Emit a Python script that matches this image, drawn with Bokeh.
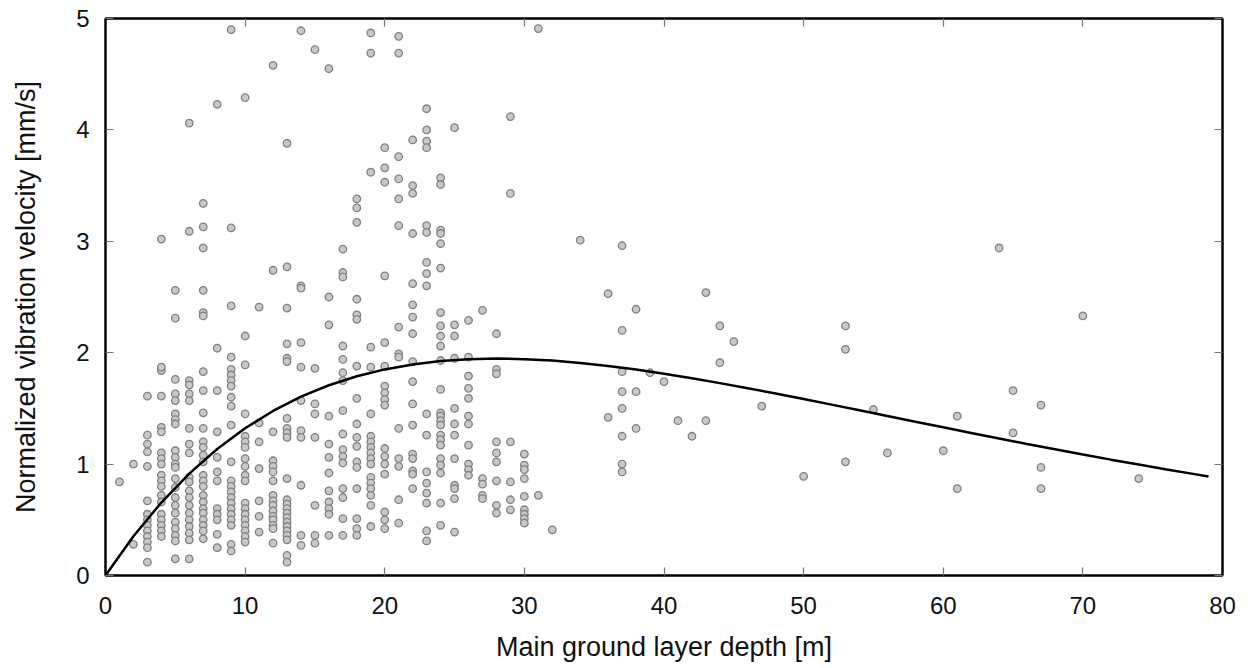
from bokeh.plotting import figure
from bokeh.models import LinearAxis, FixedTicker, Range1d
from bokeh.embed import file_html
from bokeh.resources import INLINE

# ---- data ----
depth_values = [1, 2, 3, 4, 5, 6, 7, 8, 9, 10, 11, 12, 13, 14, 15, 16, 17, 18, 19, 20,
                21, 22, 23, 24, 25, 26, 27, 28, 29, 30, 31, 32, 34, 36, 37, 38, 39, 40,
                41, 42, 43, 44, 45, 47, 50, 53, 55, 56, 60, 61, 64, 65, 67, 70, 74]
velocity_by_depth = [
    [0.84],
    [1.0, 0.28],
    [1.61, 1.26, 1.18, 1.11, 0.98, 0.67, 0.55, 0.5, 0.45, 0.4, 0.35, 0.3, 0.25, 0.12],
    [3.02, 1.84, 1.87, 1.61, 1.33, 1.29, 1.1, 1.05, 1.0, 0.9, 0.85, 0.8, 0.72, 0.66, 0.55, 0.5, 0.45, 0.4, 0.35],
    [2.56, 2.31, 1.76, 1.63, 1.57, 1.45, 1.40, 1.36, 1.12, 1.06, 1.0, 0.97, 0.87, 0.79, 0.70, 0.63, 0.56, 0.48, 0.42, 0.36, 0.31, 0.15],
    [4.06, 3.09, 1.75, 1.71, 1.63, 1.57, 1.32, 1.18, 1.10, 0.88, 0.84, 0.76, 0.70, 0.63, 0.56, 0.5, 0.44, 0.38, 0.32, 0.15],
    [3.34, 3.13, 2.94, 2.56, 2.36, 2.33, 1.83, 1.66, 1.46, 1.32, 1.2, 1.15, 1.08, 1.02, 0.9, 0.85, 0.8, 0.72, 0.66, 0.6, 0.56, 0.5, 0.45, 0.4, 0.33],
    [4.23, 2.04, 1.66, 1.29, 1.06, 0.93, 0.85, 0.6, 0.55, 0.5, 0.37, 0.25],
    [4.9, 3.12, 2.42, 1.96, 1.85, 1.8, 1.75, 1.7, 1.6, 1.52, 1.35, 1.02, 0.85, 0.8, 0.75, 0.7, 0.65, 0.6, 0.55, 0.5, 0.45, 0.28, 0.22],
    [4.29, 2.15, 1.89, 1.45, 1.25, 1.2, 1.15, 1.05, 0.98, 0.9, 0.85, 0.65, 0.6, 0.55, 0.5, 0.45, 0.4, 0.35, 0.3],
    [2.41, 1.37, 1.2, 0.96, 0.67, 0.53, 0.39],
    [4.58, 2.74, 1.29, 1.03, 0.98, 0.93, 0.85, 0.72, 0.67, 0.63, 0.58, 0.53, 0.5, 0.45, 0.42, 0.29],
    [3.88, 2.77, 2.4, 2.08, 1.95, 1.92, 1.41, 1.32, 1.28, 1.24, 0.87, 0.68, 0.64, 0.6, 0.56, 0.52, 0.48, 0.44, 0.4, 0.36, 0.32, 0.18, 0.12],
    [4.89, 2.6, 2.58, 2.09, 1.87, 1.57, 1.3, 1.24, 0.81, 0.36, 0.27],
    [4.72, 1.86, 1.54, 1.45, 1.24, 0.63, 0.36, 0.29],
    [4.55, 2.5, 2.25, 1.43, 1.18, 1.06, 0.92, 0.76, 0.66, 0.6, 0.55, 0.36],
    [2.93, 2.72, 2.68, 2.06, 1.94, 1.82, 1.75, 1.48, 1.27, 1.13, 1.07, 1.01, 0.78, 0.7, 0.51, 0.36],
    [3.38, 3.3, 3.17, 2.48, 2.34, 2.3, 1.88, 1.59, 1.36, 1.24, 1.16, 1.02, 0.97, 0.78, 0.51, 0.42, 0.36],
    [4.87, 4.69, 3.62, 2.05, 1.87, 1.45, 1.25, 1.2, 1.15, 1.1, 1.05, 1.0, 0.88, 0.83, 0.78, 0.72, 0.63, 0.44],
    [3.84, 3.66, 3.53, 2.69, 2.09, 1.88, 1.7, 1.64, 1.58, 1.53, 1.14, 1.07, 1.0, 0.91, 0.57, 0.5, 0.42],
    [4.84, 4.69, 3.76, 3.56, 3.38, 3.14, 2.23, 1.99, 1.96, 1.32, 1.05, 0.98, 0.68, 0.47],
    [3.91, 3.5, 3.43, 3.07, 2.62, 2.43, 2.32, 2.17, 1.92, 1.74, 1.54, 1.35, 1.09, 1.05, 0.94, 0.91, 0.78],
    [4.19, 4.0, 3.9, 3.84, 3.14, 3.08, 2.81, 2.71, 2.6, 1.45, 1.26, 0.93, 0.83, 0.74, 0.65, 0.4, 0.31],
    [3.57, 3.51, 3.1, 3.07, 2.98, 2.76, 2.36, 2.24, 2.15, 2.06, 1.93, 1.67, 1.46, 1.43, 1.39, 1.35, 1.26, 1.22, 1.17, 1.05, 0.99, 0.92, 0.65, 0.45],
    [4.02, 2.25, 2.15, 1.95, 1.5, 1.36, 1.26, 1.05, 0.81, 0.78, 0.69, 0.39],
    [2.29, 1.96, 1.79, 1.68, 1.59, 1.43, 1.36, 1.17, 1.0, 0.95, 0.9],
    [2.38, 0.87, 0.82, 0.72, 0.69],
    [2.17, 1.85, 1.81, 1.2, 1.1, 1.02, 0.85, 0.63, 0.56],
    [4.12, 3.43, 1.2, 0.84, 0.68, 0.59],
    [1.09, 0.99, 0.95, 0.87, 0.71, 0.59, 0.55, 0.51, 0.47],
    [4.91, 0.72],
    [0.41],
    [3.01],
    [2.53, 1.42],
    [2.96, 2.2, 1.83, 1.65, 1.5, 1.25, 1.0, 0.93],
    [2.39, 1.65, 1.32],
    [1.82],
    [1.74],
    [1.39],
    [1.25],
    [2.54, 1.39],
    [2.24, 1.91],
    [2.1],
    [1.52],
    [0.89],
    [2.24, 2.03, 1.02],
    [1.49],
    [1.1],
    [1.12],
    [1.43, 0.78],
    [2.94],
    [1.66, 1.28],
    [1.53, 0.97, 0.78],
    [2.33],
    [0.87],
]

fit_depth = [0, 2, 4, 6, 8, 10, 12, 14, 16, 18, 20, 22, 24, 26, 28, 30, 32, 34, 36, 38,
             40, 42, 44, 46, 48, 50, 52, 54, 56, 58, 60, 62, 64, 66, 68, 70, 72, 74, 76, 78, 79]
fit_velocity = [0.0, 0.352, 0.655, 0.915, 1.136, 1.322, 1.477, 1.605, 1.708, 1.789, 1.850,
                1.895, 1.925, 1.942, 1.947, 1.942, 1.929, 1.908, 1.881, 1.849, 1.812, 1.771,
                1.727, 1.681, 1.634, 1.585, 1.534, 1.484, 1.432, 1.381, 1.330, 1.280, 1.230,
                1.181, 1.134, 1.086, 1.040, 0.996, 0.952, 0.910, 0.888]

x_ticks = [0, 10, 20, 30, 40, 50, 60, 70, 80]
y_ticks = [0, 1, 2, 3, 4, 5]

pts_x = [d for d, vs in zip(depth_values, velocity_by_depth) for _ in vs]
pts_y = [v for vs in velocity_by_depth for v in vs]

FONT = "Liberation Sans"

p = figure(width=1254, height=668, output_backend="svg", toolbar_location=None,
           x_range=Range1d(0, 80), y_range=Range1d(0, 5),
           min_border_left=105, min_border_right=32, min_border_top=18, min_border_bottom=93)
p.background_fill_color = "white"
p.border_fill_color = "white"
p.outline_line_color = "black"
p.outline_line_width = 2
p.xgrid.visible = False
p.ygrid.visible = False

p.scatter(pts_x, pts_y, size=7.5, marker="circle", fill_color="#c8c8c8",
          line_color="#808080", line_width=1.3)
p.line(fit_depth, fit_velocity, line_color="black", line_width=2.5)

def style_axis(ax, show_labels=True):
    ax.major_tick_in = 8
    ax.major_tick_out = 0
    ax.minor_tick_line_color = None
    ax.major_tick_line_color = "#777777"
    ax.major_tick_line_width = 1.2
    ax.axis_line_color = "black"
    ax.axis_line_width = 2
    ax.major_label_text_font = FONT
    ax.major_label_text_font_size = "24px"
    ax.major_label_text_color = "#111111"
    ax.axis_label_text_font = FONT
    ax.axis_label_text_font_size = "27px"
    ax.axis_label_text_font_style = "normal"
    ax.axis_label_text_color = "#111111"
    if not show_labels:
        ax.major_label_text_font_size = "0px"
        ax.major_label_text_alpha = 0

xa = p.xaxis[0]
xa.ticker = FixedTicker(ticks=x_ticks)
xa.axis_label = "Main ground layer depth [m]"
style_axis(xa)
xa.major_label_standoff = 21
xa.axis_label_standoff = 15

ya = p.yaxis[0]
ya.ticker = FixedTicker(ticks=y_ticks)
ya.axis_label = "Normalized vibration velocity [mm/s]"
style_axis(ya)
ya.major_label_standoff = 16
ya.axis_label_standoff = 32

top = LinearAxis(ticker=FixedTicker(ticks=x_ticks))
style_axis(top, False)
p.add_layout(top, "above")
right = LinearAxis(ticker=FixedTicker(ticks=y_ticks))
style_axis(right, False)
p.add_layout(right, "right")

open("out.html", "w").write(file_html(p, INLINE))
